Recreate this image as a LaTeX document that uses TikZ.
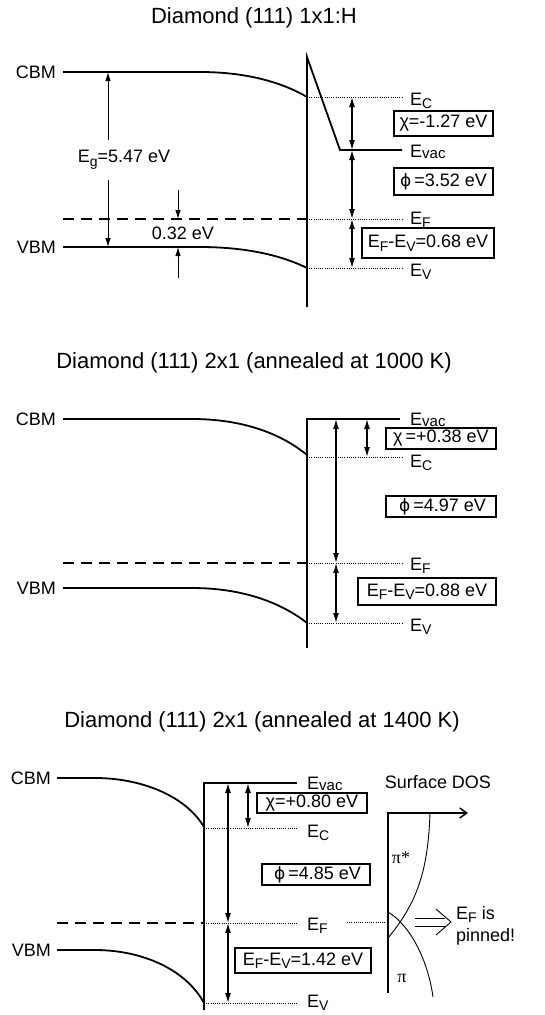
\documentclass[tikz,border=0pt]{standalone}
\usepackage{fontspec}
\setmainfont{Liberation Sans}
\newfontfamily\grserif{Liberation Serif}
\newfontfamily\dvs{DejaVu Sans}
\usetikzlibrary{arrows.meta}
\newcommand\lsub[1]{\raisebox{-3.5pt}{\fontsize{14pt}{14pt}\selectfont #1}}
\newcommand\vacsub{\raisebox{-1.5pt}{\fontsize{15pt}{15pt}\selectfont vac}}
\newcommand\phig{{\dvs\fontsize{17pt}{20pt}\selectfont ϕ}}
\begin{document}
\begin{tikzpicture}[x=1pt,y=-1pt,
  band/.style={line width=1.8pt},
  fermi/.style={line width=1.8pt, dash pattern=on 11pt off 7pt},
  dotln/.style={line width=0.7pt, dash pattern=on 0.7pt off 1.5pt},
  dim/.style={line width=1.3pt, {Latex[length=10pt,width=6pt]}-{Latex[length=10pt,width=6pt]}},
  thinarr/.style={line width=0.9pt, -{Latex[length=9pt,width=5.5pt]}},
  ttl/.style={font=\fontsize{22pt}{26pt}\selectfont, inner sep=0pt},
  lbl/.style={font=\fontsize{18pt}{21pt}\selectfont, inner sep=0pt},
  lvl/.style={font=\fontsize{18pt}{21pt}\selectfont, inner sep=0pt, anchor=base west},
  valbox/.style={draw, line width=1.4pt, font=\fontsize{18pt}{21pt}\selectfont, inner sep=0pt},
]
\useasboundingbox (0,0) rectangle (544,1015);

% ================= Panel 1 =================
\node[ttl] (t1) at (254,18) {Diamond (111) 1x1:H};
\node[lbl,anchor=east] (cbm1) at (56,72) {CBM};
\node[lbl,anchor=east] (vbm1) at (56,247) {VBM};
\draw[band] (63,72) -- (200,72) .. controls (250,72) and (285,84) .. (307,97);
\draw[band] (63,247) -- (200,247) .. controls (250,247) and (285,257) .. (307,268);
\draw[band] (307,307) -- (307,57) -- (340,150) -- (402,150);
\draw[fermi] (63,219) -- (307,219);
\draw[dotln] (307,97) -- (402,97);
\draw[dotln] (307,219) -- (402,219);
\draw[dotln] (307,268) -- (402,268);
\node[lvl] (evac1) at (410,157) {E\vacsub};
\node[lvl] (ec1) at (410,105) {E\lsub{C}};
\node[lvl] (ef1) at (410,224) {E\lsub{F}};
\node[lvl] (ev1) at (410,276) {E\lsub{V}};
\node[valbox, minimum width=99pt, minimum height=25pt] (chi1) at (443.5,123.5) {χ=-1.27 eV};
\node[valbox, minimum width=99pt, minimum height=27pt] (phi1) at (443.5,181.5) {\phig\,=3.52 eV};
\node[valbox, minimum width=132pt, minimum height=30pt] (fv1) at (428,243) {E\lsub{F}-E\lsub{V}=0.68 eV};
\coordinate (a1c) at (352,97); \coordinate (a1v) at (352,150);
\coordinate (a1f) at (352,219); \coordinate (a1e) at (352,268);
\draw[dim] (a1c) -- (a1v);
\draw[dim] (a1v) -- (a1f);
\draw[dim] (a1f) -- (a1e);
% band gap
\node[lbl] (eg1) at (124,160) {E\lsub{g}=5.47 eV};
\coordinate (g1t) at (108,72); \coordinate (g1a) at (108,140);
\coordinate (g1b) at (108,180); \coordinate (g1v) at (108,247);
\draw[thinarr] (g1a) -- (g1t);
\draw[thinarr] (g1b) -- (g1v);
% 0.32 eV
\coordinate (s1a) at (178,190); \coordinate (s1f) at (178,219);
\coordinate (s1b) at (178,278); \coordinate (s1v) at (178,247);
\draw[thinarr] (s1a) -- (s1f);
\draw[thinarr] (s1b) -- (s1v);
\node[lbl] (d1) at (183,233) {0.32 eV};

% ================= Panel 2 =================
\node[ttl] (t2) at (254,363) {Diamond (111) 2x1 (annealed at 1000 K)};
\node[lbl,anchor=east] (cbm2) at (56,419) {CBM};
\node[lbl,anchor=east] (vbm2) at (56,588) {VBM};
\draw[band] (63,419) -- (192,419) .. controls (245,419) and (283,435) .. (307,455);
\draw[band] (63,588) -- (192,588) .. controls (245,588) and (283,604) .. (307,623);
\draw[band] (307,648) -- (307,419) -- (400,419);
\draw[fermi] (63,563) -- (307,563);
\draw[dotln] (307,457) -- (402,457);
\draw[dotln] (307,563) -- (402,563);
\draw[dotln] (307,623) -- (402,623);
\node[lvl] (evac2) at (410,425) {E\vacsub};
\node[lvl] (ec2) at (410,467) {E\lsub{C}};
\node[lvl] (ef2) at (410,570) {E\lsub{F}};
\node[lvl] (ev2) at (410,631) {E\lsub{V}};
\node[valbox, minimum width=110pt, minimum height=21pt] (chi2) at (441,438.5) {χ\,=+0.38 eV};
\node[valbox, minimum width=110pt, minimum height=21pt] (phi2) at (441,506.5) {\,\phig\,=4.97 eV};
\node[valbox, minimum width=138pt, minimum height=27pt] (fv2) at (427,591.5) {E\lsub{F}-E\lsub{V}=0.88 eV};
\coordinate (a2v) at (336,419); \coordinate (a2f) at (336,563); \coordinate (a2e) at (336,623);
\coordinate (b2v) at (367,419); \coordinate (b2c) at (367,457);
\draw[dim] (b2v) -- (b2c);
\draw[dim] (a2v) -- (a2f);
\draw[dim] (a2f) -- (a2e);

% ================= Panel 3 =================
\node[ttl] (t3) at (262,722) {Diamond (111) 2x1 (annealed at 1400 K)};
\node[lbl,anchor=east] (cbm3) at (51,778) {CBM};
\node[lbl,anchor=east] (vbm3) at (51,950) {VBM};
\draw[band] (57,778) -- (95,778) .. controls (140,778) and (185,795) .. (204,827);
\draw[band] (57,950) -- (95,950) .. controls (140,950) and (185,968) .. (204,1003);
\draw[band] (204,1010) -- (204,783) -- (297,783);
\draw[fermi] (57,923) -- (204,923);
\draw[dotln] (204,828) -- (297,828);
\draw[dotln] (204,923) -- (297,923);
\draw[dotln] (204,1003) -- (297,1003);
\node[lvl] (evac3) at (307,789) {E\vacsub};
\node[lvl] (ec3) at (307,837) {E\lsub{C}};
\node[lvl] (ef3) at (307,930) {E\lsub{F}};
\node[lvl] (ev3) at (307,1007) {E\lsub{V}};
\node[valbox, minimum width=110pt, minimum height=20pt] (chi3) at (312,803) {χ=+0.80 eV};
\node[valbox, minimum width=108pt, minimum height=21pt] (phi3) at (316,874.5) {\,\phig\,=4.85 eV};
\node[valbox, minimum width=136pt, minimum height=25pt] (fv3) at (303,960.5) {E\lsub{F}-E\lsub{V}=1.42 eV};
\coordinate (a3v) at (228,783); \coordinate (a3f) at (228,923); \coordinate (a3e) at (228,1003);
\coordinate (b3v) at (248,783); \coordinate (b3c) at (248,828);
\draw[dim] (b3v) -- (b3c);
\draw[dim] (a3v) -- (a3f);
\draw[dim] (a3f) -- (a3e);
% surface DOS
\node[lbl] (sdos) at (438,782) {Surface DOS};
\coordinate (dosb) at (388,993); \coordinate (doso) at (388,813); \coordinate (dose) at (468,813);
\draw[line width=1.5pt, -{Straight Barb[length=7pt,width=10pt]}] (dosb) -- (doso) -- (dose);
\draw[line width=0.9pt] (430,813) .. controls (428,875) and (415,905) .. (388,938);
\draw[line width=0.9pt] (388,912) .. controls (410,925) and (428,960) .. (433,997);
\node[font=\grserif\fontsize{18pt}{21pt}\selectfont, inner sep=0pt] (pis) at (401,858) {π*};
\node[font=\grserif\fontsize{18pt}{21pt}\selectfont, inner sep=0pt] (pi) at (402,978) {π};
\coordinate (efd1) at (347,922); \coordinate (efd2) at (388,922);
\draw[dotln] (efd1) -- (efd2);
\draw[line width=0.9pt] (415,918) -- (445,918) (415,926) -- (445,926);
\draw[line width=0.9pt] (436,909) -- (451,922) -- (436,935);
\node[lbl, anchor=base west] (pin1) at (456,919) {E\lsub{F} is};
\node[lbl, anchor=base west] (pin2) at (456,941) {pinned!};
\end{tikzpicture}
\end{document}
